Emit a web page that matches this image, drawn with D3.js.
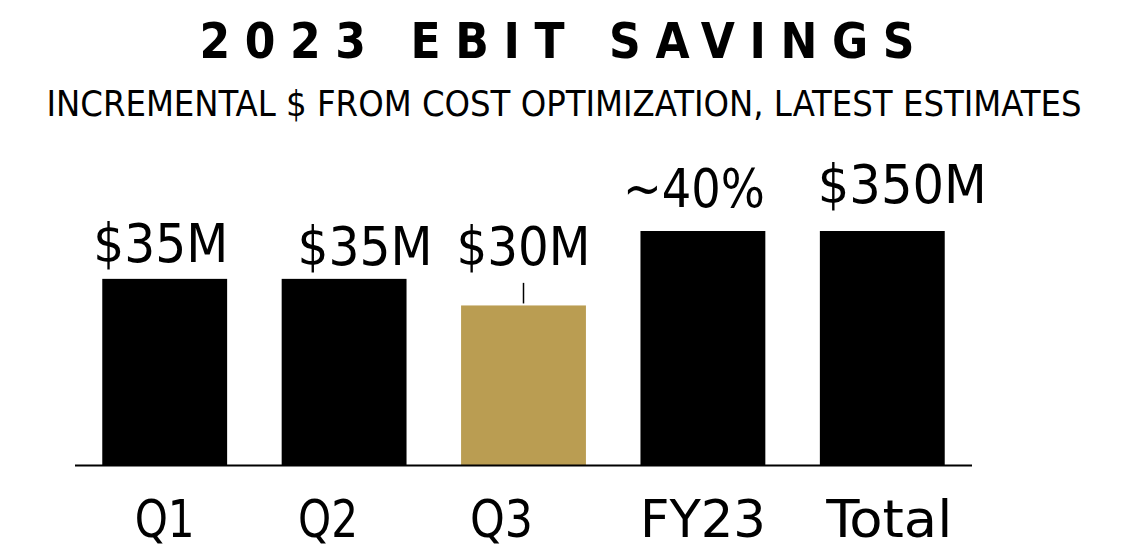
<!DOCTYPE html>
<html>
<head>
<meta charset="utf-8">
<script src="https://cdn.jsdelivr.net/npm/d3@7"></script>
<style>
  body { margin: 0; background: #fff; }
  text { font-family: "DejaVu Sans Condensed", "DejaVu Sans", sans-serif; fill: #000; }
</style>
</head>
<body>
<div id="chart"></div>
<script>
// Chart data
const categories = ["Q1", "Q2", "Q3", "FY23", "Total"];
const barHeights = [35, 35, 30, 44, 44];           // relative bar heights as drawn
const valueLabels = ["$35M", "$35M", "$30M", "~40%", "$350M"];
const barColors = ["#000000", "#000000", "#BA9D52", "#000000", "#000000"];

const width = 1138, height = 549;

const svg = d3.select("#chart")
  .append("svg")
  .attr("width", width)
  .attr("height", height);

// Titles
svg.append("text")
  .attr("x", 557)
  .attr("y", 58)
  .attr("text-anchor", "middle")
  .attr("font-size", "49px")
  .attr("font-weight", "bold")
  .attr("textLength", 715)
  .attr("lengthAdjust", "spacing")
  .text("2023 EBIT SAVINGS");

svg.append("text")
  .attr("x", 564)
  .attr("y", 116)
  .attr("text-anchor", "middle")
  .attr("font-size", "35px")
  .attr("textLength", 1035)
  .attr("lengthAdjust", "spacingAndGlyphs")
  .text("INCREMENTAL $ FROM COST OPTIMIZATION, LATEST ESTIMATES");

// Scales
const x = d3.scaleBand()
  .domain(categories)
  .range([75, 972])
  .paddingInner(0.304)
  .paddingOuter(0.152);

const y = d3.scaleLinear()
  .domain([0, 44])
  .range([465, 231]);

const data = categories.map((c, i) => ({
  cat: c, value: barHeights[i], label: valueLabels[i], color: barColors[i]
}));

// Bars
svg.selectAll("rect.bar")
  .data(data)
  .enter()
  .append("rect")
  .attr("class", "bar")
  .attr("x", d => x(d.cat))
  .attr("y", d => y(d.value))
  .attr("width", x.bandwidth())
  .attr("height", d => y(0) - y(d.value))
  .attr("fill", d => d.color);

// Baseline
svg.append("line")
  .attr("x1", 75)
  .attr("x2", 972)
  .attr("y1", y(0) + 0.5)
  .attr("y2", y(0) + 0.5)
  .attr("stroke", "#000")
  .attr("stroke-width", 2);

// Value labels (Q3 label sits at Q2 level with a leader line)
const labelRef = y(35);
const labelWidths = { "$35M": 135, "$30M": 134, "~40%": 142, "$350M": 169 };
const labelOffset = [ -4, 21, 0, -9, 20 ];
const labelLift = [17, 14, 14, 24, 28];

svg.selectAll("text.value")
  .data(data)
  .enter()
  .append("text")
  .attr("class", "value")
  .attr("x", (d, i) => x(d.cat) + x.bandwidth() / 2 + labelOffset[i])
  .attr("y", (d, i) => Math.min(y(d.value), labelRef) - labelLift[i])
  .attr("text-anchor", "middle")
  .attr("font-size", "53px")
  .attr("textLength", d => labelWidths[d.label])
  .attr("lengthAdjust", "spacingAndGlyphs")
  .text(d => d.label);

data.filter(d => y(d.value) > labelRef).forEach(d => {
  svg.append("line")
    .attr("x1", x(d.cat) + x.bandwidth() / 2)
    .attr("x2", x(d.cat) + x.bandwidth() / 2)
    .attr("y1", labelRef + 4)
    .attr("y2", y(d.value) - 2)
    .attr("stroke", "#000")
    .attr("stroke-width", 1.5);
});

// Category labels
const catOffset = [0, -16, -22, 0, 7];
const catWidths = { "Q1": 60, "Q2": 60, "Q3": 63, "FY23": 126, "Total": 126 };

svg.selectAll("text.cat")
  .data(data)
  .enter()
  .append("text")
  .attr("class", "cat")
  .attr("x", (d, i) => x(d.cat) + x.bandwidth() / 2 + catOffset[i])
  .attr("y", 537)
  .attr("text-anchor", "middle")
  .attr("font-size", "52px")
  .attr("textLength", d => catWidths[d.cat])
  .attr("lengthAdjust", "spacingAndGlyphs")
  .text(d => d.cat);
</script>
</body>
</html>
